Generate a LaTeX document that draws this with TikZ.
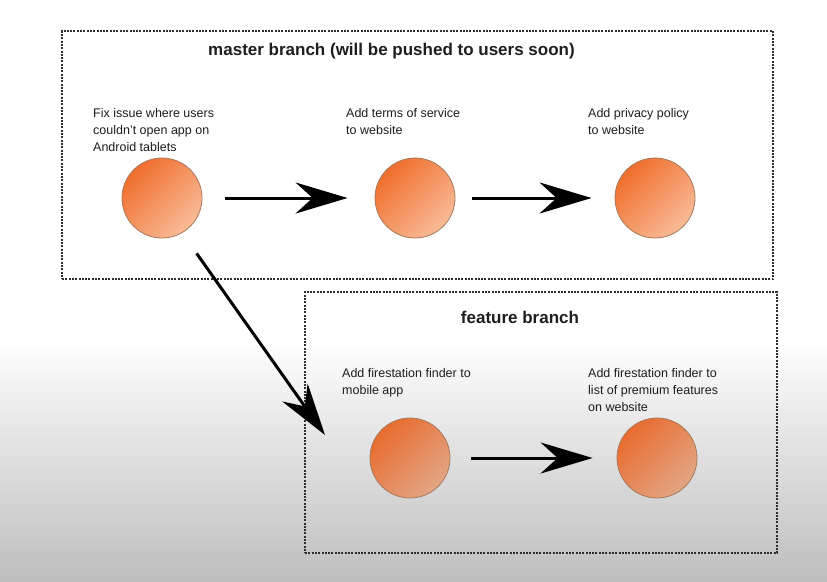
\documentclass[tikz,border=0pt]{standalone}
\usepackage{fontspec}
\setmainfont{Liberation Sans}
\usetikzlibrary{arrows.meta}
\definecolor{txt}{HTML}{1E1E1E}
\definecolor{orA}{HTML}{F06E2C}
\definecolor{orB}{HTML}{F8BC98}
\definecolor{orC}{HTML}{E86C2E}
\definecolor{orD}{HTML}{E2A684}
\definecolor{ringc}{HTML}{A8785C}
\definecolor{boxc}{HTML}{2E2E2E}
\definecolor{fade}{HTML}{BEBEBE}
\begin{document}
\begin{tikzpicture}[x=1pt,y=-1pt,
  commit/.style={circle, minimum size=80pt, inner sep=0pt, draw=ringc, line width=0.8pt,
    top color=orA, bottom color=orB, shading angle=45},
  dimcommit/.style={commit, top color=orC, bottom color=orD, shading angle=45},
  branchbox/.style={draw=boxc, line width=2pt, dash pattern=on 2pt off 1.3pt, inner sep=0pt},
  btitle/.style={font=\fontsize{17}{20}\selectfont\bfseries, text=txt, inner sep=0pt, anchor=base},
  lbl/.style={font=\fontsize{12.5}{17}\selectfont, text=txt, align=left, inner sep=0pt, anchor=north west},
  flow/.style={line width=3pt, -{Stealth[length=52pt, width=31pt, inset=17pt]}}]
\useasboundingbox (0,0) rectangle (827,581);
\fill[white] (0,0) rectangle (827,346);
\fill[top color=white!97!fade, bottom color=fade] (0,345.5) rectangle (827,581);

% branch boxes
\node[branchbox, minimum width=711pt, minimum height=248pt] (master) at (417.5,155) {};
\node[branchbox, minimum width=472pt, minimum height=261pt] (feature) at (541,422.5) {};

\node[btitle] (mtitle) at (391.5,55) {master branch (will be pushed to users soon)};
\node[btitle] (ftitle) at (520,323) {feature branch};

% commits
\node[commit] (c1) at (162,198) {};
\node[commit] (c2) at (415,198) {};
\node[commit] (c3) at (655,198) {};
\node[dimcommit] (c4) at (410,458) {};
\node[dimcommit] (c5) at (657,458) {};

% labels
\node[lbl] (l1) at (93,108) {Fix issue where users\\couldn't open app on\\Android tablets};
\node[lbl] (l2) at (346,108) {Add terms of service\\to website};
\node[lbl] (l3) at (588,108) {Add privacy policy\\to website};
\node[lbl] (l4) at (342,368) {Add firestation finder to\\mobile app};
\node[lbl] (l5) at (588,368) {Add firestation finder to\\list of premium features\\on website};

% connectors
\coordinate (dtip) at (325,435);
\draw[flow, shorten <=23pt, shorten >=27pt] (c1) -- (c2);
\draw[flow, shorten <=17pt, shorten >=23pt] (c2) -- (c3);
\draw[flow, shorten <=21pt, shorten >=24pt] (c4) -- (c5);
\draw[flow, shorten <=25pt] (c1.-60) -- (dtip);
\end{tikzpicture}
\end{document}
